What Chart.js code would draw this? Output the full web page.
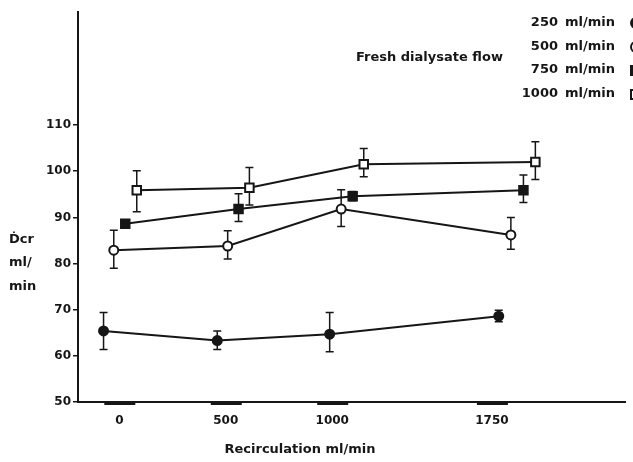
<!DOCTYPE html>
<html>
<head>
<meta charset="utf-8">
<script src="https://cdn.jsdelivr.net/npm/chart.js@4/dist/chart.umd.min.js"></script>
<style>
  body { margin: 0; background: #fff; }
  canvas { display: block; }
</style>
</head>
<body>
<canvas id="chart" width="633" height="462"></canvas>
<script>
// recirculation ticks (ml/min)
const recirc = [0, 500, 1000, 1750];
const yTicks = [50, 60, 70, 80, 90, 100, 110];
const flowLabels = ["250", "500", "750", "1000"];

// plotted x positions (points are shifted a bit around each tick in the original)
const x250 = [-74, 460, 988, 1782];
const x500 = [-26, 509, 1042, 1839];
const x750 = [28, 560, 1096, 1898];
const x1000 = [82, 611, 1148, 1954];

// clearance ml/min
const y250 = [65.4, 63.3, 64.7, 68.6];
const y500 = [82.9, 83.8, 91.8, 86.2];
const y750 = [88.6, 91.8, 94.6, 95.9];
const y1000 = [95.9, 96.4, 101.5, 102.0];

// error bar ends
const hi250 = [69.4, 65.4, 69.4, 69.9];
const lo250 = [61.4, 61.4, 60.9, 67.4];
const hi500 = [87.2, 87.1, 96.0, 90.0];
const lo500 = [79.0, 81.0, 88.0, 83.1];
const hi750 = [88.6, 95.1, 95.6, 99.2];
const lo750 = [88.6, 89.1, 93.6, 93.2];
const hi1000 = [100.1, 100.8, 104.9, 106.4];
const lo1000 = [91.2, 92.7, 98.8, 98.2];

const ink = "#161616";
const font = "'DejaVu Sans', sans-serif";

const pts = (xs, ys) => xs.map((x, i) => ({ x: x, y: ys[i] }));

const series = [
  { label: flowLabels[0], data: pts(x250, y250), hi: hi250, lo: lo250, style: "circle", fill: ink },
  { label: flowLabels[1], data: pts(x500, y500), hi: hi500, lo: lo500, style: "circle", fill: "#fff" },
  { label: flowLabels[2], data: pts(x750, y750), hi: hi750, lo: lo750, style: "rect", fill: ink },
  { label: flowLabels[3], data: pts(x1000, y1000), hi: hi1000, lo: lo1000, style: "rect", fill: "#fff" },
];

const errorBars = {
  id: "errorBars",
  beforeDatasetsDraw(chart) {
    const ctx = chart.ctx;
    const xs = chart.scales.x, ys = chart.scales.y;
    ctx.save();
    ctx.strokeStyle = ink;
    ctx.lineWidth = 1.5;
    series.forEach(s => {
      s.data.forEach((p, i) => {
        if (s.hi[i] === s.lo[i]) return;
        const px = xs.getPixelForValue(p.x);
        const top = ys.getPixelForValue(s.hi[i]);
        const bot = ys.getPixelForValue(s.lo[i]);
        ctx.beginPath();
        ctx.moveTo(px, top); ctx.lineTo(px, bot);
        ctx.moveTo(px - 4, top); ctx.lineTo(px + 4, top);
        ctx.moveTo(px - 4, bot); ctx.lineTo(px + 4, bot);
        ctx.stroke();
      });
    });
    ctx.restore();
  }
};

const extras = {
  id: "extras",
  afterDraw(chart) {
    const ctx = chart.ctx;
    const xs = chart.scales.x;
    const area = chart.chartArea;
    ctx.save();
    ctx.fillStyle = ink;
    // thick tick bars under the x axis
    recirc.forEach(v => {
      const px = xs.getPixelForValue(v);
      ctx.fillRect(px - 15, area.bottom, 31, 3);
    });
    // y axis title
    ctx.font = "bold 13px " + font;
    ctx.textAlign = "left";
    ctx.textBaseline = "middle";
    ctx.fillText("\u1E0Acr", 9, 240);
    ctx.fillText("ml/", 9, 263);
    ctx.fillText("min", 9, 287);
    // x axis title
    ctx.textAlign = "center";
    ctx.fillText("Recirculation ml/min", 300, 450);
    // legend
    ctx.textAlign = "left";
    ctx.fillText("Fresh dialysate flow", 356, 58);
    const ly = [23, 47, 70, 94];
    series.forEach((s, i) => {
      ctx.textAlign = "right";
      ctx.fillText(s.label, 558, ly[i]);
      ctx.textAlign = "left";
      ctx.fillText("ml/min", 565, ly[i]);
      ctx.lineWidth = 2;
      ctx.strokeStyle = ink;
      ctx.fillStyle = s.fill;
      ctx.beginPath();
      if (s.style === "circle") ctx.arc(636, ly[i], 5, 0, Math.PI * 2);
      else ctx.rect(631, ly[i] - 4, 9, 9);
      ctx.fill(); ctx.stroke();
      ctx.fillStyle = ink;
    });
    ctx.restore();
  }
};

new Chart(document.getElementById("chart").getContext("2d"), {
  type: "line",
  data: {
    datasets: series.map(s => ({
      label: s.label + " ml/min",
      data: s.data,
      borderColor: ink,
      borderWidth: 2,
      backgroundColor: s.fill,
      pointStyle: s.style,
      pointRadius: s.style === "rect" ? 6 : 4.5,
      pointBorderWidth: 2,
      pointBorderColor: ink,
      pointBackgroundColor: s.fill,
      tension: 0,
    }))
  },
  options: {
    responsive: false,
    animation: false,
    layout: { padding: { left: 0, top: 12, right: 0, bottom: 0 } },
    plugins: { legend: { display: false }, tooltip: { enabled: false } },
    scales: {
      x: {
        type: "linear",
        min: -194,
        max: 2375,
        afterBuildTicks: s => { s.ticks = recirc.map(v => ({ value: v })); },
        afterFit: s => { s.height = 60; },
        grid: { display: true, drawOnChartArea: false, drawTicks: false },
        border: { color: ink, width: 2 },
        ticks: {
          color: ink,
          padding: 12,
          autoSkip: false,
          maxRotation: 0,
          font: { family: font, size: 12, weight: "bold" },
          callback: v => String(v)
        }
      },
      y: {
        type: "linear",
        min: 50,
        max: 134.5,
        afterBuildTicks: s => { s.ticks = yTicks.map(v => ({ value: v })); },
        afterFit: s => { s.width = 78; },
        grid: { display: true, drawOnChartArea: false, drawTicks: true, tickLength: 5, color: ink, lineWidth: 1.5 },
        border: { color: ink, width: 2 },
        ticks: {
          color: ink,
          padding: 2,
          font: { family: font, size: 12, weight: "bold" }
        }
      }
    }
  },
  plugins: [errorBars, extras]
});
</script>
</body>
</html>
